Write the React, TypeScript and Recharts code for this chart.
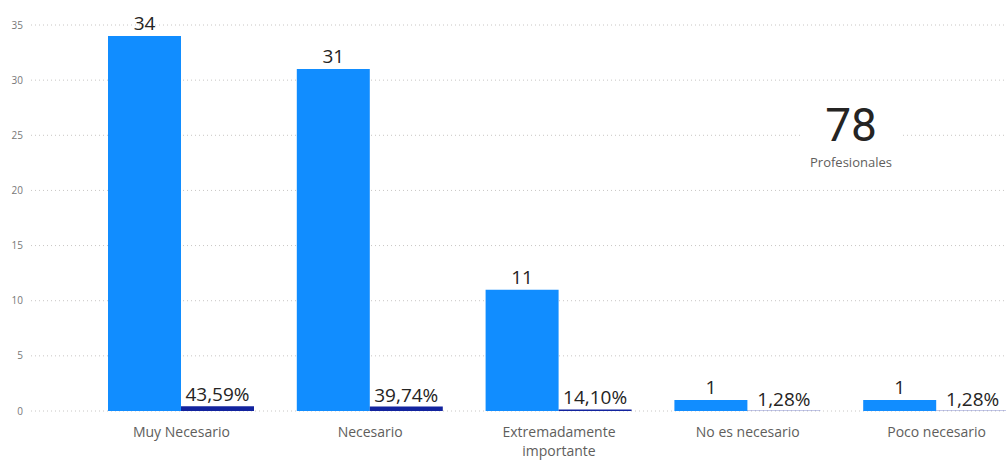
import { BarChart, Bar, XAxis, YAxis, CartesianGrid, LabelList, Text } from "recharts";

const categories = ["Muy Necesario", "Necesario", "Extremadamente importante", "No es necesario", "Poco necesario"];
const counts = [34, 31, 11, 1, 1];
const percents = [43.59, 39.74, 14.1, 1.28, 1.28];
const yTicks = [0, 5, 10, 15, 20, 25, 30, 35];

const FONT = "'Segoe UI', 'Open Sans', sans-serif";

const data = categories.map((name, i) => ({
  name,
  count: counts[i],
  pct: percents[i],
  frac: percents[i] / 100,
}));

const total = counts.reduce((a, b) => a + b, 0);

function CategoryTick(props: any) {
  const { x, y, payload } = props;
  return (
    <Text
      x={x}
      y={y}
      dy={8}
      width={150}
      lineHeight={19}
      textAnchor="middle"
      verticalAnchor="start"
      fill="#605E5C"
      fontSize={14}
      fontFamily={FONT}
    >
      {payload.value}
    </Text>
  );
}

export default function App() {
  return (
    <div style={{ position: "absolute", left: 0, top: 0, width: 1006, height: 460, overflow: "hidden", background: "#fff" }}>
      <BarChart
        width={1031}
        height={460}
        data={data}
        margin={{ top: 25, right: 0, bottom: 9, left: 0 }}
        barGap={0}
      >
        <CartesianGrid vertical={false} stroke="#C8C6C4" strokeDasharray="1 3" />
        <XAxis
          dataKey="name"
          axisLine={false}
          tickLine={false}
          height={40}
          padding={{ left: 56, right: 0 }}
          interval={0}
          tick={<CategoryTick />}
        />
        <YAxis
          width={31}
          domain={[0, 35]}
          ticks={yTicks}
          axisLine={false}
          tickLine={false}
          tick={{ fill: "#777", fontSize: 10, fontFamily: FONT }}
        />
        <Bar dataKey="count" fill="#118DFF" barSize={73} isAnimationActive={false}>
          <LabelList dataKey="count" position="top" offset={6} fill="#252423" fontSize={19} fontFamily={FONT} />
        </Bar>
        <Bar dataKey="frac" fill="#12239E" barSize={73} isAnimationActive={false}>
          <LabelList
            dataKey="pct"
            position="top"
            offset={5}
            fill="#252423"
            fontSize={19}
            fontFamily={FONT}
            formatter={(v: any) => `${Number(v).toFixed(2).replace(".", ",")}%`}
          />
        </Bar>
      </BarChart>
      <div
        style={{
          position: "absolute",
          left: 800,
          top: 98,
          width: 102,
          height: 86,
          background: "#fff",
          display: "flex",
          flexDirection: "column",
          alignItems: "center",
          fontFamily: FONT,
        }}
      >
        <div style={{ fontSize: 46, lineHeight: "54px", color: "#252423", fontFamily: "Roboto, sans-serif" }}>{total}</div>
        <div style={{ fontSize: 13, color: "#605E5C", marginTop: 1 }}>Profesionales</div>
      </div>
    </div>
  );
}
